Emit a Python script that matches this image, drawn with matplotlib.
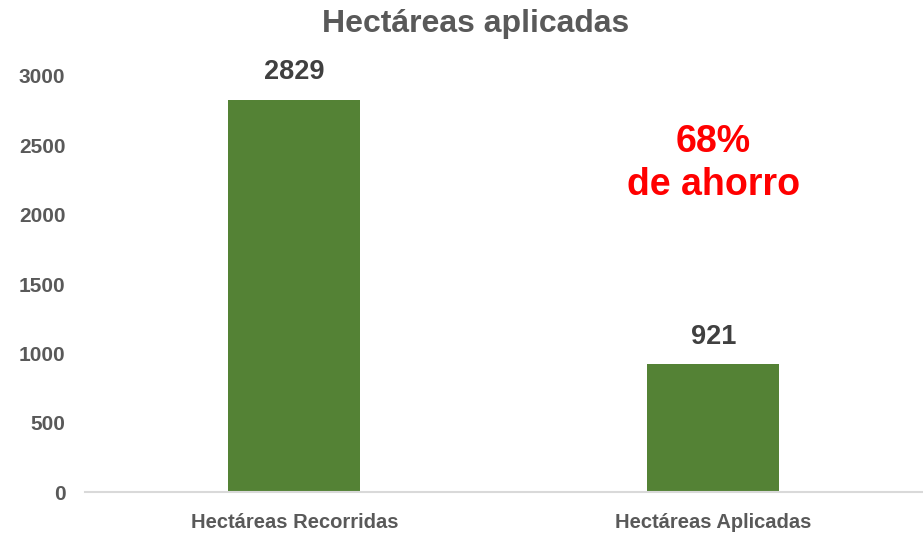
import matplotlib.pyplot as plt

# datos
categorias = ['Hectáreas Recorridas', 'Hectáreas Aplicadas']
valores = [2829, 921]
y_ticks = [0, 500, 1000, 1500, 2000, 2500, 3000]

fuente = 'Liberation Sans'
gris = '#595959'
verde = '#548235'

fig = plt.figure(figsize=(9.23, 5.39), dpi=100)
ax = fig.add_axes([0.092, 0.087, 0.908, 0.772])

x = range(len(categorias))
ax.bar(x, valores, width=0.315, color=verde)

# etiquetas de valor
for i, v in zip(x, valores):
    ax.text(i, v + 105, str(v), ha='center', va='bottom', fontsize=19.5,
            fontweight='bold', color='#404040', family=fuente)

ax.set_xlim(-0.5, 1.5)
ax.set_ylim(0, 3000)
ax.set_yticks(y_ticks)
ax.set_xticks(list(x))
ax.set_xticklabels(categorias, family=fuente, fontsize=14.5, fontweight='bold', color=gris)
for lab in ax.get_yticklabels():
    lab.set_family(fuente)
    lab.set_fontsize(15)
    lab.set_fontweight('bold')
    lab.set_color(gris)
ax.tick_params(length=0, axis='y', pad=14)
ax.tick_params(length=0, axis='x', pad=15)

for s in ['top', 'right', 'left']:
    ax.spines[s].set_visible(False)
ax.spines['bottom'].set_color('#d9d9d9')
ax.spines['bottom'].set_linewidth(1.5)

fig.text(0.515, 0.955, 'Hectáreas aplicadas', ha='center', va='center', fontsize=23,
         fontweight='bold', color=gris, family=fuente)

ax.text(1.0, 2370, '68%\nde ahorro', ha='center', va='center', fontsize=27,
        fontweight='bold', color='#ff0000', family=fuente, linespacing=1.25)

fig.savefig('out.png', dpi=100)
